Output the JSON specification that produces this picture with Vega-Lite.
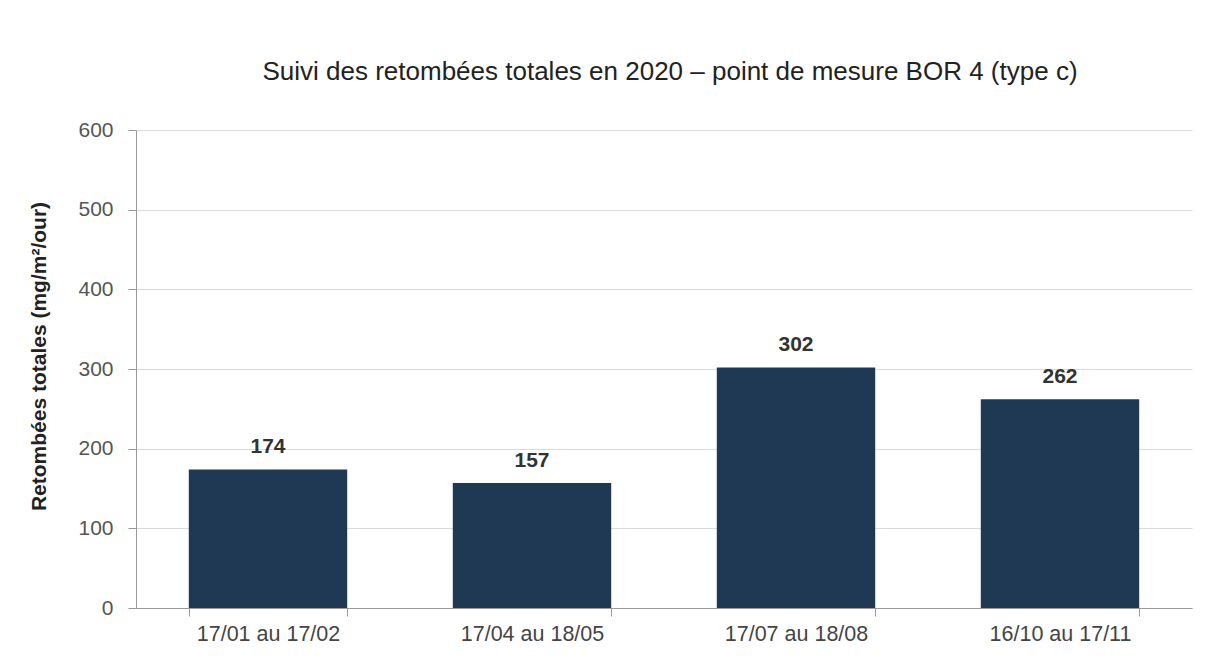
{
  "$schema": "https://vega.github.io/schema/vega-lite/v6.json",
  "autosize": {"type": "none"},
  "width": 1056,
  "height": 478,
  "padding": {"left": 136, "top": 130, "right": 32, "bottom": 49},
  "background": "white",
  "title": {
    "text": "Suivi des retombées totales en 2020 – point de mesure BOR 4 (type c)",
    "font": "Liberation Sans",
    "fontSize": 26,
    "fontWeight": "normal",
    "color": "#222222",
    "anchor": "middle",
    "offset": 34,
    "dx": 6
  },
  "data": {
    "values": [
      {"periode": "17/01 au 17/02", "valeur": 174},
      {"periode": "17/04 au 18/05", "valeur": 157},
      {"periode": "17/07 au 18/08", "valeur": 302},
      {"periode": "16/10 au 17/11", "valeur": 262}
    ]
  },
  "encoding": {
    "x": {
      "field": "periode",
      "type": "nominal",
      "sort": null,
      "scale": {"paddingInner": 0.4, "paddingOuter": 0.2},
      "axis": {
        "title": null,
        "labelAngle": 0,
        "labelFont": "Liberation Sans",
        "labelFontSize": 21.5,
        "labelColor": "#444444",
        "labelPadding": 7,
        "tickBand": "extent",
        "tickSize": 8,
        "tickColor": "#999999",
        "domainColor": "#999999",
        "grid": false
      }
    },
    "y": {
      "field": "valeur",
      "type": "quantitative",
      "scale": {"domain": [0, 600]},
      "axis": {
        "title": "Retombées totales (mg/m²/our)",
        "titleFont": "Liberation Sans",
        "titleFontSize": 21,
        "titleFontWeight": "bold",
        "titleColor": "#222222",
        "titlePadding": 28,
        "titleY": 226,
        "values": [0, 100, 200, 300, 400, 500, 600],
        "labelFont": "Liberation Sans",
        "labelFontSize": 21,
        "labelColor": "#555555",
        "labelPadding": 15,
        "tickSize": 8,
        "tickColor": "#999999",
        "domainColor": "#999999",
        "gridColor": "#d9d9d9",
        "gridWidth": 1
      }
    }
  },
  "layer": [
    {"mark": {"type": "bar", "color": "#1f3853"}},
    {
      "mark": {"type": "text", "baseline": "bottom", "dy": -12, "font": "Liberation Sans", "fontSize": 21, "fontWeight": "bold", "color": "#333333"},
      "encoding": {"text": {"field": "valeur", "type": "quantitative"}}
    }
  ],
  "config": {"view": {"stroke": null}}
}
